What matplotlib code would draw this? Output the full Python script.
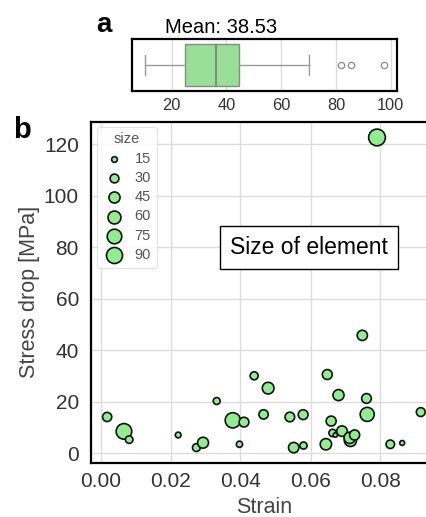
import numpy as np
import matplotlib
matplotlib.use('Agg')
import matplotlib.pyplot as plt

plt.rcParams['font.family'] = ['Liberation Sans', 'DejaVu Sans']

# ---------- data ----------
strain = [0.0019, 0.0067, 0.0082, 0.0222, 0.0274, 0.0293, 0.0332, 0.0378, 0.0410, 0.0397,
          0.0439, 0.0479, 0.0466, 0.0541, 0.0579, 0.0552, 0.0580, 0.0648, 0.0680, 0.0659,
          0.0663, 0.0671, 0.0690, 0.0644, 0.0714, 0.0712, 0.0726, 0.0748, 0.0760, 0.0762,
          0.0828, 0.0862, 0.0915, 0.0790]
stress = [14.1, 8.5, 5.3, 7.1, 2.2, 4.1, 20.3, 12.8, 12.1, 3.5,
          30.1, 25.3, 15.1, 14.1, 15.0, 2.2, 3.0, 30.6, 22.6, 12.5,
          7.9, 7.1, 8.6, 3.5, 5.0, 6.0, 7.1, 45.8, 21.3, 15.1,
          3.5, 4.0, 16.0, 122.7]
size = [32, 85.5, 23, 15, 24.5, 44, 20, 81.7, 35.8, 17,
        25.3, 50, 33.1, 35, 36.2, 40, 21, 37, 44.7, 37.5,
        22, 10.4, 41, 47, 54, 47.2, 38, 39, 35.5, 70,
        28, 12, 30, 97.6]
legend_sizes = [15, 30, 45, 60, 75, 90]

green = '#90ee90'
box_green = '#98df98'

def area(v):
    return np.clip(17 + (np.asarray(v, float) - 15) * 1.55, 8, None)

W, H = 427, 517
fig = plt.figure(figsize=(W / 100, H / 100), dpi=100)

# ---------- panel a: box plot ----------
axa = fig.add_axes([132.3 / W, 1 - 90.7 / H, 264.4 / W, 51.4 / H])
axa.boxplot(size, orientation='horizontal', positions=[0], widths=0.8, patch_artist=True,
            boxprops=dict(facecolor=box_green, edgecolor='#8a8a8a', linewidth=1.0),
            medianprops=dict(color='#7a7a7a', linewidth=1.2),
            whiskerprops=dict(color='#9a9a9a', linewidth=1.0),
            capprops=dict(color='#9a9a9a', linewidth=1.0),
            flierprops=dict(marker='o', markerfacecolor='none', markeredgecolor='#8a8a8a',
                            markersize=4.5, markeredgewidth=0.9))
axa.set_xlim(5.6, 102.2)
axa.set_ylim(0.5, -0.5)
axa.set_yticks([])
axa.set_xticks([20, 40, 60, 80, 100])
axa.grid(True, axis='x', color='#dcdcdc', linewidth=1.0, zorder=0)
axa.set_axisbelow(True)
axa.tick_params(axis='x', length=0, labelsize=11.8, labelcolor='#333333', pad=5)
for sp in axa.spines.values():
    sp.set_color('black')
    sp.set_linewidth(1.6)

fig.text(221 / W, 1 - 33.3 / H, 'Mean: %.2f' % np.mean(size), ha='center', va='baseline',
         fontsize=14.5, color='black')
fig.text(96.5 / W, 1 - 32 / H, 'a', ha='left', va='baseline', fontsize=20, fontweight='bold')
fig.text(13 / W, 1 - 138 / H, 'b', ha='left', va='baseline', fontsize=21, fontweight='bold')

# ---------- panel b: scatter ----------
axb = fig.add_axes([91.4 / W, 1 - 463.3 / H, 345.1 / W, (463.3 - 121.5) / H])
axb.scatter(strain, stress, s=area(size), c=green, edgecolors='#111111', linewidths=1.2, zorder=3)
axb.set_xlim(-0.0026, 0.0960)
axb.set_ylim(-3.9, 128.9)
axb.set_xticks([0, 0.02, 0.04, 0.06, 0.08])
axb.set_xticklabels(['%.2f' % t for t in [0, 0.02, 0.04, 0.06, 0.08]])
axb.set_yticks([0, 20, 40, 60, 80, 100, 120])
axb.grid(True, color='#dcdcdc', linewidth=1.0, zorder=0)
axb.set_axisbelow(True)
axb.tick_params(length=0, labelsize=15, labelcolor='#333333')
axb.tick_params(axis='x', pad=6.5)
axb.tick_params(axis='y', pad=9)
axb.set_xlabel('Strain', fontsize=15.5, color='#444444', labelpad=4)
axb.set_ylabel('Stress drop [MPa]', fontsize=15.5, color='#444444', labelpad=3)
for sp in axb.spines.values():
    sp.set_color('black')
    sp.set_linewidth(1.6)

axb.text(0.0596, 79.9, 'Size of element', ha='center', va='center', fontsize=16.5, zorder=5,
         bbox=dict(boxstyle='square,pad=0.45', facecolor='white', edgecolor='black', linewidth=1.0))

handles = [axb.scatter([], [], s=area(v), c=green, edgecolors='#111111', linewidths=1.2)
           for v in legend_sizes]
leg = axb.legend(handles, [str(v) for v in legend_sizes], title='size', loc='upper left',
                 fontsize=10.5, title_fontsize=10.5, labelcolor='#555555', frameon=True,
                 borderaxespad=0.35, handletextpad=0.6, labelspacing=0.36, borderpad=0.4,
                 handlelength=1.6)
leg.get_title().set_color('#555555')
leg.get_frame().set_edgecolor('#dddddd')
leg.get_frame().set_linewidth(0.8)

fig.savefig('out.png', dpi=100)
